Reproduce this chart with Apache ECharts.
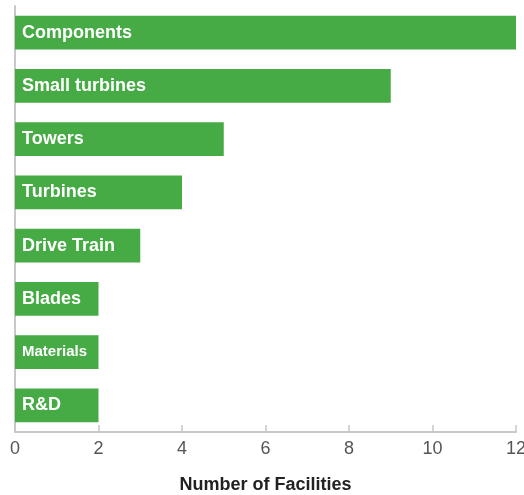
<!DOCTYPE html>
<html><head><meta charset="utf-8">
<script src="https://cdn.jsdelivr.net/npm/echarts@6/dist/echarts.min.js"></script>
<style>html,body{margin:0;padding:0;background:#fff}#c{width:524px;height:495px}</style>
</head><body><div id="c"></div>
<script>
const categories = ["Components","Small turbines","Towers","Turbines","Drive Train","Blades","Materials","R&D"];
const facilities = [12, 9, 5, 4, 3, 2, 2, 2];
const xTicks = [0, 2, 4, 6, 8, 10, 12];
const narrowLabels = ["Materials"];

const chart = echarts.init(document.getElementById('c'), null, {renderer:'canvas'});
chart.setOption({
  animation: false,
  textStyle: {fontFamily: 'Liberation Sans, Arial, sans-serif'},
  grid: {left: 15, right: 8, top: 6, bottom: 63, containLabel: false, outerBoundsMode: 'none'},
  xAxis: {
    type: 'value', min: xTicks[0], max: xTicks[xTicks.length-1], interval: 2,
    name: 'Number of Facilities', nameLocation: 'middle', nameGap: 44,
    nameTextStyle: {fontSize: 18, fontWeight: 'bold', color: '#222'},
    axisLine: {show: true, lineStyle: {color: '#c8c8c8', width: 2}},
    axisTick: {show: true, inside: true, length: 7, lineStyle: {color: '#c8c8c8', width: 1.5}},
    axisLabel: {fontSize: 18, color: '#555', margin: 8},
    splitLine: {show: false}
  },
  yAxis: {
    type: 'category', data: categories, inverse: true,
    axisLine: {show: true, lineStyle: {color: '#c8c8c8', width: 2}},
    axisTick: {show: false}, axisLabel: {show: false}
  },
  series: [{
    type: 'bar', barCategoryGap: '37%',
    data: facilities.map((v, i) => narrowLabels.includes(categories[i])
      ? {value: v, label: {fontSize: 15}}
      : v),
    itemStyle: {color: '#46ab44'},
    label: {show: true, position: 'insideLeft', distance: 7,
      formatter: p => p.name, color: '#fff', fontSize: 18, fontWeight: 'bold'}
  }]
});
</script></body></html>
